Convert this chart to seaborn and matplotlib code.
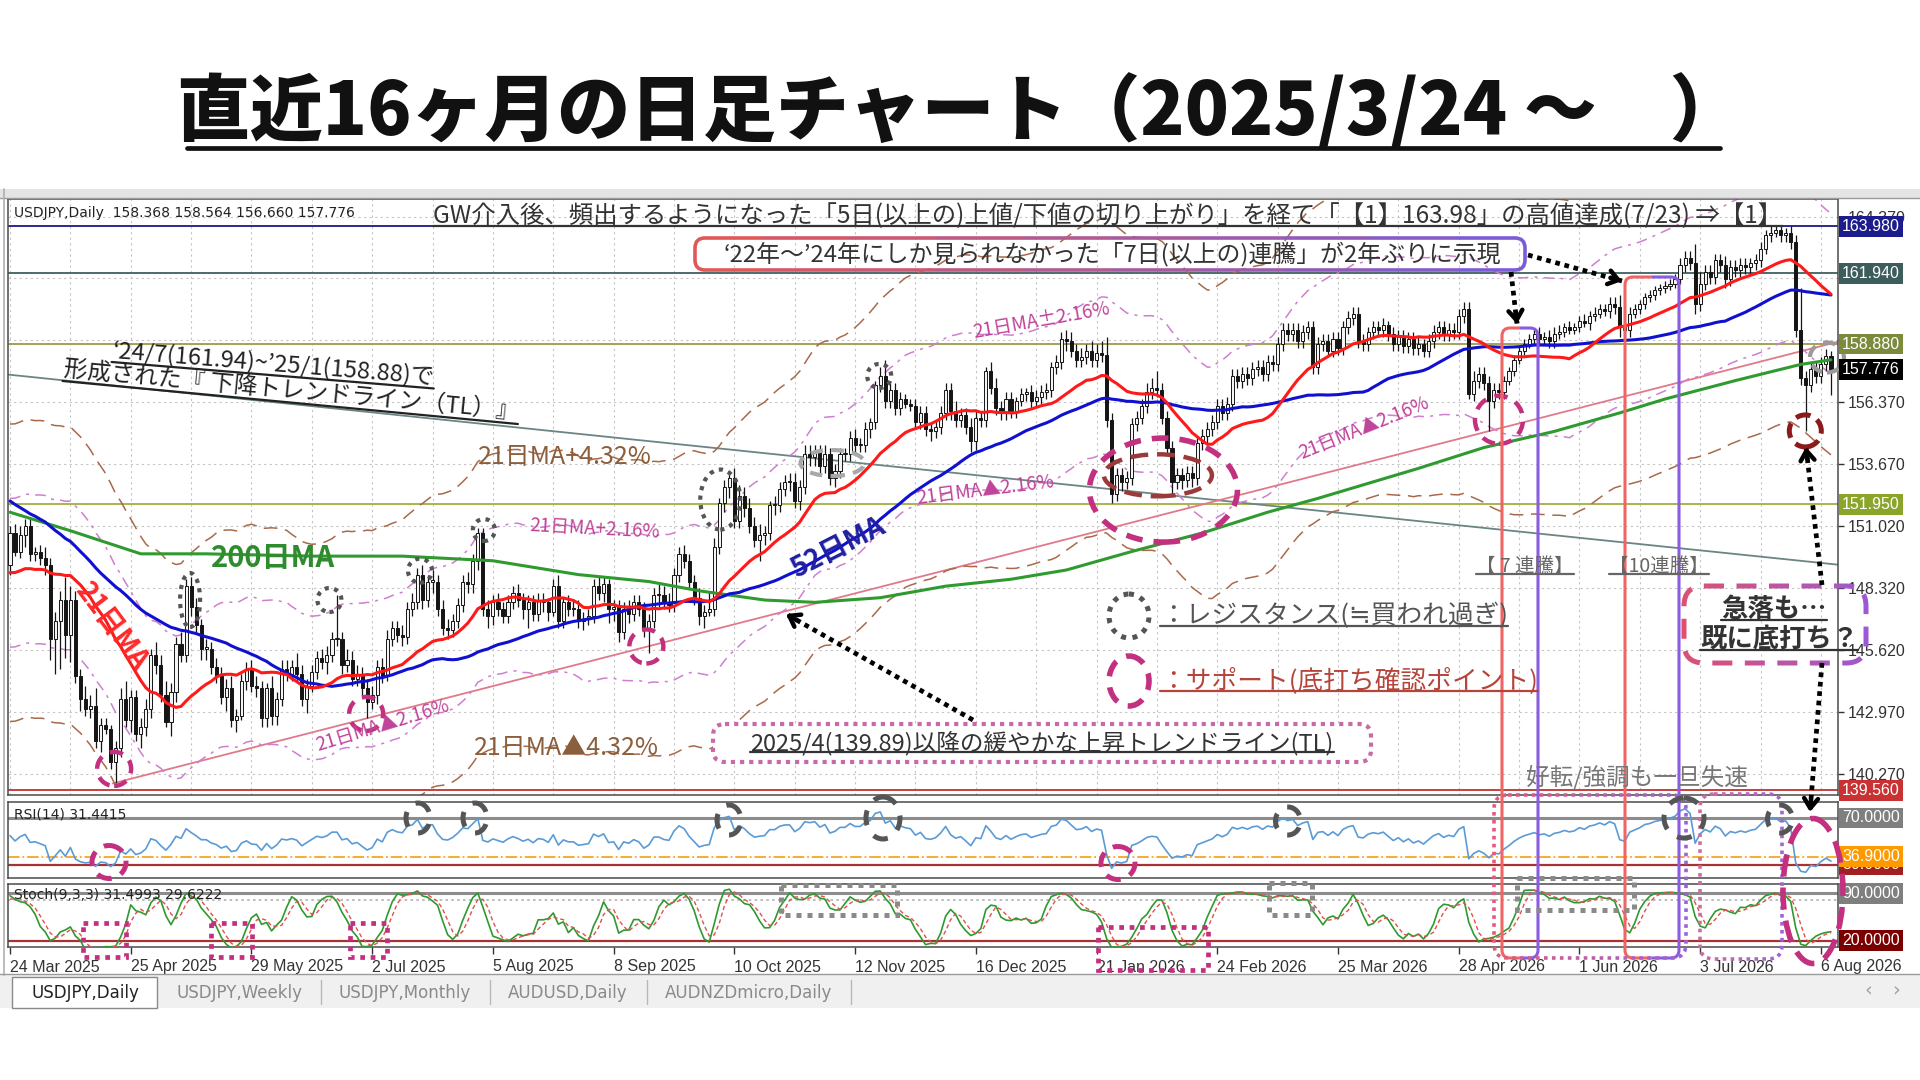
import numpy as np
import pandas as pd
import matplotlib
matplotlib.use('Agg')
import matplotlib.pyplot as plt
import matplotlib.colors as mcolors
from matplotlib.patches import Ellipse, FancyBboxPatch, Rectangle, FancyArrowPatch
from matplotlib.transforms import Bbox, blended_transform_factory
import seaborn as sns

sns.set_theme(style='white')
plt.rcParams['font.family'] = ['Noto Sans CJK JP', 'DejaVu Sans']
plt.rcParams['axes.unicode_minus'] = False

# ------------------------------------------------------------------ data
# closes before the first visible bar (needed for the moving averages / RSI)
pre_closes = [157.6, 158.0, 158.3, 158.1, 157.7, 157.5, 157.9, 157.1, 155.3, 156.3,
              155.6, 155.6, 156.5, 156.0, 156.0, 154.5, 155.5, 155.2, 154.3, 155.2,
              154.9, 154.3, 152.6, 151.5, 151.4, 152.0, 152.5, 154.4, 153.6, 152.3,
              151.5, 151.9, 151.5, 150.0, 149.3, 149.7, 149.0, 149.1, 149.8, 150.6,
              149.5, 149.8, 149.0, 147.9, 148.0, 147.3, 147.8, 148.8, 147.8, 148.6,
              149.2, 149.3, 148.7, 148.7, 149.3]

# daily closes, 24 Mar 2025 -> Aug 2026 (one row = one week)
closes = [
    150.7, 149.9, 150.6, 151.0, 149.8,
    149.9, 149.6, 149.3, 146.1, 146.9,
    147.8, 146.3, 147.8, 144.5, 143.5,
    143.1, 143.2, 141.7, 142.4, 142.2,
    140.8, 141.4, 143.5, 142.6, 143.6,
    142.0, 142.3, 143.1, 145.4, 145.0,
    143.7, 142.5, 143.8, 145.9, 145.4,
    148.4, 147.5, 146.7, 145.7, 145.7,
    144.9, 144.5, 143.6, 144.0, 142.6,
    142.8, 144.3, 144.8, 144.1, 144.0,
    142.7, 144.0, 142.8, 143.5, 144.8,
    144.6, 144.9, 144.6, 143.5, 144.1,
    144.7, 145.3, 145.1, 145.4, 146.1,
    146.1, 145.0, 145.2, 144.4, 144.6,
    144.0, 143.4, 143.7, 144.9, 144.5,
    146.1, 146.6, 146.3, 146.2, 147.4,
    147.7, 148.9, 147.8, 148.6, 148.6,
    147.4, 146.6, 146.5, 146.9, 147.6,
    148.6, 148.5, 149.5, 150.7, 147.4,
    147.1, 147.7, 147.4, 147.1, 147.7,
    148.1, 147.8, 147.4, 147.7, 147.2,
    147.8, 147.7, 147.3, 148.4, 146.9,
    147.7, 147.4, 147.4, 146.9, 147.0,
    147.1, 148.4, 148.1, 148.5, 147.4,
    147.5, 146.4, 147.4, 147.2, 147.7,
    147.4, 146.5, 146.9, 148.0, 148.0,
    147.7, 147.6, 148.9, 149.8, 149.5,
    148.6, 147.9, 147.1, 147.3, 147.4,
    150.1, 152.0, 152.7, 153.1, 151.2,
    152.3, 151.8, 151.0, 150.4, 150.6,
    150.7, 151.9, 151.9, 152.6, 152.9,
    152.9, 152.1, 152.7, 154.1, 154.0,
    154.2, 153.6, 154.1, 153.1, 153.4,
    154.1, 154.1, 154.8, 154.5, 154.5,
    155.2, 155.5, 157.1, 157.5, 156.4,
    156.9, 156.1, 156.5, 156.3, 156.2,
    155.5, 155.9, 155.2, 155.1, 155.3,
    155.9, 156.9, 156.0, 155.6, 155.8,
    155.3, 154.7, 155.7, 155.6, 157.7,
    157.0, 156.1, 155.9, 156.5,
    156.0, 156.4, 156.7, 156.8,
    156.4, 156.6, 156.8, 156.9, 157.9,
    158.1, 159.1, 159.0, 158.6, 158.2,
    158.3, 158.6, 158.2, 158.5, 158.4,
    155.6, 152.4, 153.2, 152.9, 153.1,
    155.4, 155.7, 156.2, 156.8, 157.0,
    156.9, 155.7, 154.4, 152.9, 153.2,
    153.0, 153.3, 153.1, 154.6, 154.9,
    155.2, 155.5, 156.2, 155.9, 156.3,
    157.5, 157.3, 157.6, 157.4, 157.8,
    157.9, 157.6, 158.1, 158.0, 158.9,
    159.5, 159.3, 159.5, 159.0, 159.4,
    159.6, 157.9, 158.9, 159.0, 158.6,
    159.1, 158.7, 159.6, 160.0, 160.2,
    159.0, 158.9, 159.4, 159.6, 159.5,
    159.7, 159.3, 158.9, 159.2, 158.8,
    159.1, 158.7, 158.9, 158.6, 159.0,
    159.4, 159.6, 159.3, 159.5, 159.4,
    160.1, 160.4, 156.7, 157.3, 157.6,
    157.2, 156.4, 156.9, 156.8, 157.3,
    157.7, 158.2, 158.6, 158.9, 159.1,
    159.3, 159.1, 159.2, 159.0, 159.3,
    159.4, 159.6, 159.5, 159.6, 159.9,
    159.8, 160.1, 160.2, 160.4, 160.3,
    160.6, 160.5, 159.6, 159.5, 160.2,
    160.4, 160.6, 160.9, 161.0, 161.2,
    161.3, 161.4, 161.5, 161.7, 162.3,
    162.6, 162.4, 160.6, 161.5, 162.0,
    161.8, 162.5, 162.3, 161.7, 162.2,
    162.1, 162.3, 162.2, 162.4, 162.5,
    163.0, 163.6, 163.7, 163.8, 163.6,
    163.7, 163.3, 159.5, 157.4, 157.1,
    157.8, 157.5, 158.0, 158.37, 157.776,
]

# candle wicks in 0.1 yen (base-36 digits, one per bar)
upper_wick = ("34433 23534 4a643 65833 23583 34436 46435 34434 34445 33344 32534 43643 "
              "33443 j3544 34434 43343 43435 34433 34322 43433 34333 33235 23443 33432 "
              "33343 33336 44334 33438 42324 54445 32433 44344 33433 33343 32247 33322 "
              "33333 33343 34332 4433 3232 33332 33443 43445 83333 33344 73333 33333 "
              "33333 33333 33333 33333 33333 33333 33233 32333 33323 33333 33343 33332 "
              "22222 23233 32322 32322 33533 22222 22223 33853 33343 33323 32322 233i3 33332")
lower_wick = ("42353 3349f lac35 34352 39435 36444 32643 34355 33363 52434 44443 33336 "
              "33353 34333 37343 23343 33435 33433 34443 54333 33483 34423 33334 33346 "
              "54343 33a35 33333 33452 33453 34339 43433 43434 44334 33343 34333 33322 "
              "33343 33433 35433 3333 3323 33333 33433 33333 34343 33333 33353 43433 "
              "33333 33333 33333 33333 33333 33333 33333 33333 33333 33333 33233 3d333 "
              "22222 23233 22222 23222 33433 22222 22222 33433 33343 33333 32323 3333k 3333b")

# 200-day MA
ma200_bars = [0, 12, 26, 39, 60, 78, 87, 96, 113, 127, 137, 150, 160, 173, 186, 199, 210,
              223, 237, 250, 260, 280, 293, 307, 320, 329, 343, 356, 362]
ma200_vals = [151.6, 150.8, 149.8, 149.8, 149.7, 149.7, 149.6, 149.5, 148.9, 148.6, 148.2,
              147.8, 147.7, 147.9, 148.4, 148.7, 149.1, 149.9, 150.7, 151.6, 152.2, 153.5,
              154.4, 155.1, 155.9, 156.5, 157.3, 158.0, 158.2]

up_tl_bars, up_tl_vals = [20.4, 363.4], [139.86, 158.98]
dn_tl_bars, dn_tl_vals = [-0.4, 363.4], [157.56, 149.33]

levels = [163.98, 161.94, 158.88, 151.95, 139.56]
level_colors = ['#2a2a90', '#4f6a6a', '#a3a356', '#a8b44a', '#c84040']
level_tags = ['163.980', '161.940', '158.880', '151.950', '139.560']
tag_colors = ['#1c1c8c', '#3d5c5c', '#7b8b3b', '#8aa52a', '#c83232']

price_ticks = [140.27, 142.97, 145.62, 148.32, 151.02, 153.67, 156.37, 159.07, 161.72, 164.37]
# labels of 159.070 / 161.720 are fully hidden behind the level tags in the chart
price_tick_labels = ['140.270', '142.970', '145.620', '148.320', '151.020', '153.670',
                     '156.370', '', '', '164.370']
date_labels = ['24 Mar 2025', '25 Apr 2025', '29 May 2025', '2 Jul 2025', '5 Aug 2025',
               '8 Sep 2025', '10 Oct 2025', '12 Nov 2025', '16 Dec 2025', '21 Jan 2026',
               '24 Feb 2026', '25 Mar 2026', '28 Apr 2026', '1 Jun 2026', '3 Jul 2026',
               '6 Aug 2026']
date_pos = list(range(0, 361, 24))

# ------------------------------------------------------------------ derived series
c = np.array(closes, float)
n = len(c)
x = np.arange(n)
uw = np.array([int(ch, 36) for ch in upper_wick if ch != ' ']) / 10.0
lw_ = np.array([int(ch, 36) for ch in lower_wick if ch != ' ']) / 10.0
o = np.concatenate([[pre_closes[-1]], c[:-1]])
h = np.maximum(o, c) + uw
l = np.minimum(o, c) - lw_

npre = len(pre_closes)
allc = pd.Series(list(pre_closes) + list(c))
ma21 = allc.rolling(21).mean().iloc[npre:].to_numpy()
ma52 = allc.rolling(52).mean().iloc[npre:].to_numpy()
dlt = allc.diff()
gain = dlt.clip(lower=0).ewm(alpha=1 / 14, adjust=False).mean()
loss = (-dlt.clip(upper=0)).ewm(alpha=1 / 14, adjust=False).mean()
rsi = (100 - 100 / (1 + gain / loss)).iloc[npre:].to_numpy()
allh = pd.Series(list(pre_closes) + list(h))
alll = pd.Series(list(pre_closes) + list(l))
ll9 = alll.rolling(9).min()
hh9 = allh.rolling(9).max()
stk = 100 * (allc - ll9).rolling(3).sum() / (hh9 - ll9).rolling(3).sum()
std = stk.rolling(3).mean()
stk = stk.iloc[npre:].to_numpy()
std = std.iloc[npre:].to_numpy()

df = pd.DataFrame({'bar': x, 'ma21': ma21, 'ma52': ma52,
                   'eu1': ma21 * 1.0216, 'el1': ma21 * (1 - 0.0216),
                   'eu2': ma21 * 1.0432, 'el2': ma21 * (1 - 0.0432),
                   'rsi': rsi, 'k': stk, 'd': std})

# ------------------------------------------------------------------ figure
W, H = 1920, 1080
fig = plt.figure(figsize=(19.2, 10.8), dpi=100)
fig.patch.set_facecolor('white')


def rect(x0, y0, x1, y1):
    return [x0 / W, 1 - y1 / H, (x1 - x0) / W, (y1 - y0) / H]


XL = (-0.4, 363.4)
YL = (139.36, 165.16)
ax = fig.add_axes(rect(8, 199, 1838, 795))
ax_r = fig.add_axes(rect(8, 802, 1838, 878))
ax_s = fig.add_axes(rect(8, 884, 1838, 947))
PXB = 1830 / (XL[1] - XL[0])
PXY = 596 / (YL[1] - YL[0])

for a in (ax, ax_r, ax_s):
    a.set_facecolor('white')
    a.set_xlim(*XL)
    for sp in a.spines.values():
        sp.set_color('#4a4a4a')
        sp.set_linewidth(1.1)

# grid
for p in price_ticks:
    ax.axhline(p, color='#c4c4c4', lw=0.8, ls=(0, (2, 3)), zorder=0)
for b in range(0, 364, 12):
    ax.axvline(b, color='#c4c4c4', lw=0.8, ls=(0, (2, 3)), zorder=0)

# horizontal levels & trend lines
for lv, lc in zip(levels, level_colors):
    ax.axhline(lv, color=lc, lw=1.4, zorder=2)
sns.lineplot(x=dn_tl_bars, y=dn_tl_vals, ax=ax, color='#6b8585', lw=1.3, zorder=2)
sns.lineplot(x=up_tl_bars, y=up_tl_vals, ax=ax, color='#e07a8a', lw=1.3, zorder=2)

# envelopes
sns.lineplot(data=df, x='bar', y='eu2', ax=ax, color='#a86a4a', lw=1.1, linestyle=(0, (9, 5)), zorder=2)
sns.lineplot(data=df, x='bar', y='el2', ax=ax, color='#a86a4a', lw=1.1, linestyle=(0, (9, 5)), zorder=2)
sns.lineplot(data=df, x='bar', y='eu1', ax=ax, color='#cf7fcf', lw=1.1, linestyle=(0, (7, 4, 2, 4)), zorder=2)
sns.lineplot(data=df, x='bar', y='el1', ax=ax, color='#cf7fcf', lw=1.1, linestyle=(0, (7, 4, 2, 4)), zorder=2)

# candles
bull = c >= o
ax.vlines(x, l, h, color='#151515', lw=0.9, zorder=3)
body = np.maximum(np.abs(c - o), 0.05)
bot = np.minimum(o, c)
ax.bar(x[bull], body[bull], bottom=bot[bull], width=0.62, color='#f4f4f4',
       edgecolor='#151515', linewidth=0.7, zorder=4)
ax.bar(x[~bull], body[~bull], bottom=bot[~bull], width=0.62, color='#151515',
       edgecolor='#151515', linewidth=0.7, zorder=4)

# moving averages
sns.lineplot(x=ma200_bars, y=ma200_vals, ax=ax, color='#2f9a2f', lw=2.2, zorder=5)
sns.lineplot(data=df, x='bar', y='ma52', ax=ax, color='#1010d0', lw=2.2, zorder=5)
sns.lineplot(data=df, x='bar', y='ma21', ax=ax, color='#ff1a1a', lw=2.2, zorder=6)

ax.set_ylim(*YL)
ax.set_xlim(*XL)
ax.set_xlabel('')
ax.set_ylabel('')
ax.set_xticks([])
ax.yaxis.tick_right()
ax.set_yticks(price_ticks)
ax.set_yticklabels(price_tick_labels)
ax.tick_params(axis='y', right=True, length=4, width=1, color='#333333', pad=3,
               labelsize=11.5, labelcolor='#333333')
for t in ax.get_yticklabels():
    t.set_fontfamily('Liberation Sans')
ax.text(0.0035, 0.988, 'USDJPY,Daily  158.368 158.564 156.660 157.776', transform=ax.transAxes,
        ha='left', va='top', fontsize=10, color='#222222', family='DejaVu Sans', zorder=10)


def tag(axh, val, txt, fc, size=11.5):
    tr = blended_transform_factory(axh.transAxes, axh.transData)
    axh.text(1.0 + 4 / 1830, val, txt, transform=tr, ha='left', va='center', fontsize=size,
             color='white', family='Liberation Sans',
             bbox=dict(boxstyle='square,pad=0.18', fc=fc, ec='none'), clip_on=False, zorder=30)


for lv, tx, fc in zip(levels, level_tags, tag_colors):
    tag(ax, lv, tx, fc)
tag(ax, 157.776, '157.776', '#000000')

# RSI panel
ax_r.axhline(70, color='#8c8c8c', lw=2.2, zorder=1)
ax_r.axhline(36.9, color='#f5a623', lw=1.3, ls='-.', zorder=1)
ax_r.axhline(30, color='#a83232', lw=1.6, zorder=1)
sns.lineplot(data=df, x='bar', y='rsi', ax=ax_r, color='#5b9bd5', lw=1.2, zorder=3)
ax_r.set_ylim(18.9, 83.6)
ax_r.set_xlim(*XL)
ax_r.set_xticks([])
ax_r.set_yticks([])
ax_r.set_xlabel('')
ax_r.set_ylabel('')
ax_r.text(0.0035, 0.93, 'RSI(14) 31.4415', transform=ax_r.transAxes, ha='left', va='top',
          fontsize=10, color='#222222', family='DejaVu Sans')
tag(ax_r, 70, '70.0000', '#7f7f7f')
tag(ax_r, 30, '30.0000', '#a02020')
tag(ax_r, 36.9, '36.9000', '#ff9900')

# Stochastic panel
ax_s.axhline(90, color='#8c8c8c', lw=2.2, zorder=1)
ax_s.axhline(80, color='#b0b0b0', lw=1.2, ls=(0, (1.5, 2)), zorder=1)
ax_s.axhline(20, color='#a83232', lw=1.6, zorder=1)
sns.lineplot(data=df, x='bar', y='k', ax=ax_s, color='#2e9a2e', lw=1.2, zorder=3)
sns.lineplot(data=df, x='bar', y='d', ax=ax_s, color='#e05050', lw=1.0, linestyle=(0, (3, 2)), zorder=3)
ax_s.set_ylim(10.5, 104)
ax_s.set_xlim(*XL)
ax_s.set_yticks([])
ax_s.set_xlabel('')
ax_s.set_ylabel('')
ax_s.set_xticks(date_pos)
ax_s.set_xticklabels(date_labels)
ax_s.tick_params(axis='x', bottom=True, length=5, width=1, color='#333333', pad=4,
                 labelsize=11.5, labelcolor='#333333')
for t in ax_s.get_xticklabels():
    t.set_horizontalalignment('left')
    t.set_fontfamily('Liberation Sans')
ax_s.text(0.0035, 0.93, 'Stoch(9,3,3) 31.4993 29.6222', transform=ax_s.transAxes, ha='left',
          va='top', fontsize=10, color='#222222', family='DejaVu Sans')
tag(ax_s, 90, '90.0000', '#7f7f7f')
tag(ax_s, 20, '20.0000', '#7a0000')


# circles on the price chart (data coordinates, radii in pixels)
def dcirc(bar, price, rx, ry, color, lwd, ls, clip=True):
    e = Ellipse((bar, price), 2 * rx / PXB, 2 * ry / PXY, fill=False, ec=color, lw=lwd, ls=ls,
                zorder=9, clip_on=clip)
    ax.add_patch(e)


MAG = '#c2307f'
GRY = '#555555'
for b, p, r in [(20.7, 140.49, 17), (70.8, 142.87, 17), (126.5, 145.79, 17), (296.0, 155.6, 24)]:
    dcirc(b, p, r, r, MAG, 3.2, (0, (3, 2)))
dcirc(229.3, 152.56, 74, 52, MAG, 4.0, (0, (3, 2)))
dcirc(228.2, 153.2, 54, 21, '#9b3a3a', 3.2, (0, (4, 2)))
dcirc(356.9, 155.12, 16, 16, '#8b1a1a', 3.6, (0, (3, 1.5)))
dcirc(361.2, 158.3, 17, 15, '#9a9a9a', 3.0, (0, (3, 2)), clip=False)
for b, p, rx, ry in [(35.8, 147.8, 10, 27), (63.5, 147.8, 12, 12), (81.5, 149.07, 12, 12),
                     (94.2, 150.83, 11, 11), (141.2, 152.15, 20, 30), (172.8, 157.5, 12, 12)]:
    dcirc(b, p, rx, ry, GRY, 3.0, (0, (1, 1.3)))
dcirc(163.5, 153.73, 32, 13, '#a8a8a8', 3.0, (0, (3, 2)))

# ------------------------------------------------------------------ overlay (pixel coords)
ov = fig.add_axes([0, 0, 1, 1])
ov.set_xlim(0, W)
ov.set_ylim(H, 0)
ov.axis('off')
ov.patch.set_visible(False)
ov.set_zorder(50)


def mix(c0, c1, t):
    a0 = np.array(mcolors.to_rgb(c0))
    a1 = np.array(mcolors.to_rgb(c1))
    return tuple(a0 + (a1 - a0) * t)


def grad_box(x0, y0, x1, y1, c0, c1, lwd=2.5, ls='-', rad=10, n=10):
    for i in range(n):
        col = mix(c0, c1, i / max(n - 1, 1))
        p = FancyBboxPatch((x0, y0), x1 - x0, y1 - y0, boxstyle=f'round,pad=0,rounding_size={rad}',
                           fc='none', ec=col, lw=lwd, ls=ls)
        ov.add_patch(p)
        xa = x0 - 20 + (x1 - x0 + 40) * i / n
        xb = x0 - 20 + (x1 - x0 + 40) * (i + 1) / n
        p.set_clip_box(Bbox.from_extents(xa, 0, xb, H))


def darrow(x0, y0, x1, y1, lwd=3.4):
    ov.plot([x0, x1], [y0, y1], color='black', lw=lwd, ls=(0, (1, 1)), dash_capstyle='butt')
    v = np.array([x1 - x0, y1 - y0], float)
    v /= np.hypot(*v)
    ov.add_patch(FancyArrowPatch((x1 - v[0] * 12, y1 - v[1] * 12), (x1, y1),
                                 arrowstyle='->,head_length=0.7,head_width=0.5', color='black',
                                 lw=3.2, shrinkA=0, shrinkB=0, mutation_scale=10))


UL = []
RUL = []


def T(xp, yp, s, size, color='#333333', weight='normal', ha='center', va='center', rot=0,
      ul=False, ul_off=-3, ul_lw=1.6, family=None):
    kw = {}
    if family:
        kw['family'] = family
    t = ov.text(xp, yp, s, fontsize=size, color=color, fontweight=weight, ha=ha, va=va,
                rotation=rot, rotation_mode='anchor', **kw)
    if ul:
        UL.append((t, color, ul_off, ul_lw))
    return t


def RT(xp, yp, s, size, rot, color='#222222', ul_lw=1.6):
    ov.text(xp, yp, s, fontsize=size, color=color, rotation=rot, rotation_mode='anchor',
            ha='left', va='baseline')
    m = ov.text(0, 0, s, fontsize=size, alpha=0)
    RUL.append((xp, yp, rot, m, color, ul_lw))


# window frame
ov.add_patch(Rectangle((0, 189), W, 9, fc='#e4e4e4', ec='none'))
ov.plot([0, W], [198, 198], color='#9a9a9a', lw=1)
ov.plot([4, 4], [189, 975], color='#b0b0b0', lw=1.2)
ov.add_patch(Rectangle((0, 974), W, 34, fc='#f0f0f0', ec='none'))
ov.plot([0, W], [974, 974], color='#9a9a9a', lw=1)
ov.add_patch(Rectangle((12, 977), 145, 31, fc='white', ec='#8a8a8a', lw=1))
for sx in (321, 490, 647, 851):
    ov.plot([sx, sx], [980, 1004], color='#b8b8b8', lw=1)
for tx, cx, col in [('USDJPY,Daily', 85, '#222222'), ('USDJPY,Weekly', 240, '#8a8a8a'),
                    ('USDJPY,Monthly', 405, '#8a8a8a'), ('AUDUSD,Daily', 568, '#8a8a8a'),
                    ('AUDNZDmicro,Daily', 749, '#8a8a8a')]:
    T(cx, 993, tx, 12, color=col, family='DejaVu Sans')
T(1868, 990, '‹', 14, color='#a0a0a0', family='DejaVu Sans')
T(1896, 990, '›', 14, color='#a0a0a0', family='DejaVu Sans')

# title
T(960, 112, '直近16ヶ月の日足チャート（2025/3/24 ～　）', 52.5, color='#111111', weight='heavy')
ov.plot([187, 1720], [148, 148], color='#111111', lw=3.4)

# top annotations
T(1108, 216, 'GW介入後、頻出するようになった「5日(以上の)上値/下値の切り上がり」を経て「【1】163.98」の高値達成(7/23) ⇒【1】',
  17.6, color='#333333', ul=True)
grad_box(695, 238, 1525, 270, '#e05858', '#7b5cd6', lwd=2.6, rad=10)
T(1112, 254, '‘22年～’24年にしか見られなかった「7日(以上の)連騰」が2年ぶりに示現', 17.2, color='#333333')
darrow(1528, 255, 1622, 281)
darrow(1511, 272, 1517, 324)

# down trend line text
RT(112, 357, '‘24/7(161.94)~’25/1(158.88)で', 17, -4.7)
RT(63, 376, '形成された『 下降トレンドライン（TL）』', 17, -5.4)

# envelope labels
T(565, 457, '21日MA+4.32%', 18, color='#8b5e3c')
T(566, 748, '21日MA▲4.32%', 18, color='#8b5e3c')
PINK = '#c0449a'
T(1041, 321, '21日MA±2.16%', 13.5, color=PINK, rot=10)
T(595, 529, '21日MA+2.16%', 13.5, color=PINK, rot=-3)
T(383, 726, '21日MA▲2.16%', 13.5, color=PINK, rot=17)
T(985, 490, '21日MA▲2.16%', 13.5, color=PINK, rot=7)
T(1364, 428, '21日MA▲2.16%', 13.5, color=PINK, rot=22)

# MA labels
T(273, 558, '200日MA', 21, color='#2e8b2e', weight='bold')
T(112, 627, '21日MA', 20, color='#ff2a2a', weight='bold', rot=-53)
T(838, 548, '52日MA', 20, color='#1f1fa0', weight='bold', rot=27)

# legend
ov.add_patch(Ellipse((1129, 616), 40, 44, fill=False, ec=GRY, lw=3.6, ls=(0, (1, 1.3))))
T(1160, 616, '：レジスタンス(≒買われ過ぎ)', 18.5, color='#555555', ha='left', ul=True)
ov.add_patch(Ellipse((1129, 681), 40, 50, fill=False, ec=MAG, lw=4, ls=(0, (3, 2))))
T(1160, 681, '：サポート(底打ち確認ポイント)', 18.5, color='#b5443a', ha='left', ul=True)

# up trend line box
ov.add_patch(FancyBboxPatch((713, 724), 658, 38, boxstyle='round,pad=0,rounding_size=12',
                            fc='white', ec='#c86aa8', lw=3, ls=(0, (1, 1.2))))
T(1042, 743, '2025/4(139.89)以降の緩やかな上昇トレンドライン(TL)', 17, color='#333333', ul=True)
darrow(973, 720, 786, 614)

# streak boxes
grad_box(1502, 328, 1538, 958, '#f06464', '#8a5ce0', lwd=2.2, rad=8, n=2)
grad_box(1625, 277, 1679, 958, '#f06464', '#8a5ce0', lwd=2.2, rad=8, n=2)
T(1525, 566, '【 7 連騰】', 14, color='#666666', ul=True)
T(1659, 566, '【10連騰】', 14, color='#666666', ul=True)
T(1637, 777, '好転/強調も一旦失速', 17, color='#777777')
grad_box(1494, 795, 1686, 958, '#e05c7a', '#9c62d8', lwd=2.6, ls=(0, (1, 1.2)), rad=14)
grad_box(1700, 794, 1782, 959, '#d0709a', '#9c62d8', lwd=2.6, ls=(0, (1, 1.2)), rad=14)

# crash box
grad_box(1684, 586, 1866, 663, '#e0506a', '#9b59d6', lwd=3.6, ls=(0, (4, 2.5)), rad=20)
T(1774, 609, '急落も…', 19, color='#333333', weight='bold', ul=True)
T(1779, 639, '既に底打ち？', 19, color='#333333', weight='bold', ul=True)
darrow(1822, 585, 1806, 447)
darrow(1822, 663, 1810, 812)

# RSI markers
for cx, cy, w_, h_ in [(418, 818, 24, 30), (475, 818, 24, 30), (729, 820, 24, 30), (883, 818, 34, 42),
                       (1288, 821, 25, 28), (1684, 818, 40, 40), (1780, 819, 25, 28)]:
    ov.add_patch(Ellipse((cx, cy), w_, h_, fill=False, ec=GRY, lw=3.6, ls=(0, (3, 2.5))))
for cx, cy in [(109, 862), (1118, 863)]:
    ov.add_patch(Ellipse((cx, cy), 34, 33, fill=False, ec=MAG, lw=3.6, ls=(0, (3, 2))))
ov.add_patch(Ellipse((1813, 891), 60, 145, fill=False, ec=MAG, lw=4, ls=(0, (4, 2))))

# stochastic markers
for x0, y0, x1, y1 in [(83, 923, 126, 957), (211, 923, 252, 957), (350, 923, 387, 957),
                       (1098, 927, 1208, 970)]:
    ov.add_patch(Rectangle((x0, y0), x1 - x0, y1 - y0, fill=False, ec=MAG, lw=3.4, ls=(0, (1, 1.2))))
for x0, y0, x1, y1 in [(781, 885, 897, 915), (1269, 883, 1312, 915), (1517, 878, 1634, 910)]:
    ov.add_patch(Rectangle((x0, y0), x1 - x0, y1 - y0, fill=False, ec='#8a8a8a', lw=3.6, ls=(0, (1, 1.2))))

# ------------------------------------------------------------------ underlines
fig.canvas.draw()
rnd = fig.canvas.get_renderer()
for t, col, off, lwd in UL:
    bb = t.get_window_extent(rnd)
    yy = H - bb.y0 + off
    ov.plot([bb.x0, bb.x1], [yy, yy], color=col, lw=lwd)
for xp, yp, rot, m, col, lwd in RUL:
    wdt = m.get_window_extent(rnd).width
    a = np.deg2rad(rot)
    d = np.array([np.cos(a), -np.sin(a)])
    nrm = np.array([np.sin(a), np.cos(a)])
    p0 = np.array([xp, yp]) + nrm * 5
    p1 = p0 + d * wdt
    ov.plot([p0[0], p1[0]], [p0[1], p1[1]], color=col, lw=lwd)

fig.savefig('out.png', dpi=100, facecolor='white')
